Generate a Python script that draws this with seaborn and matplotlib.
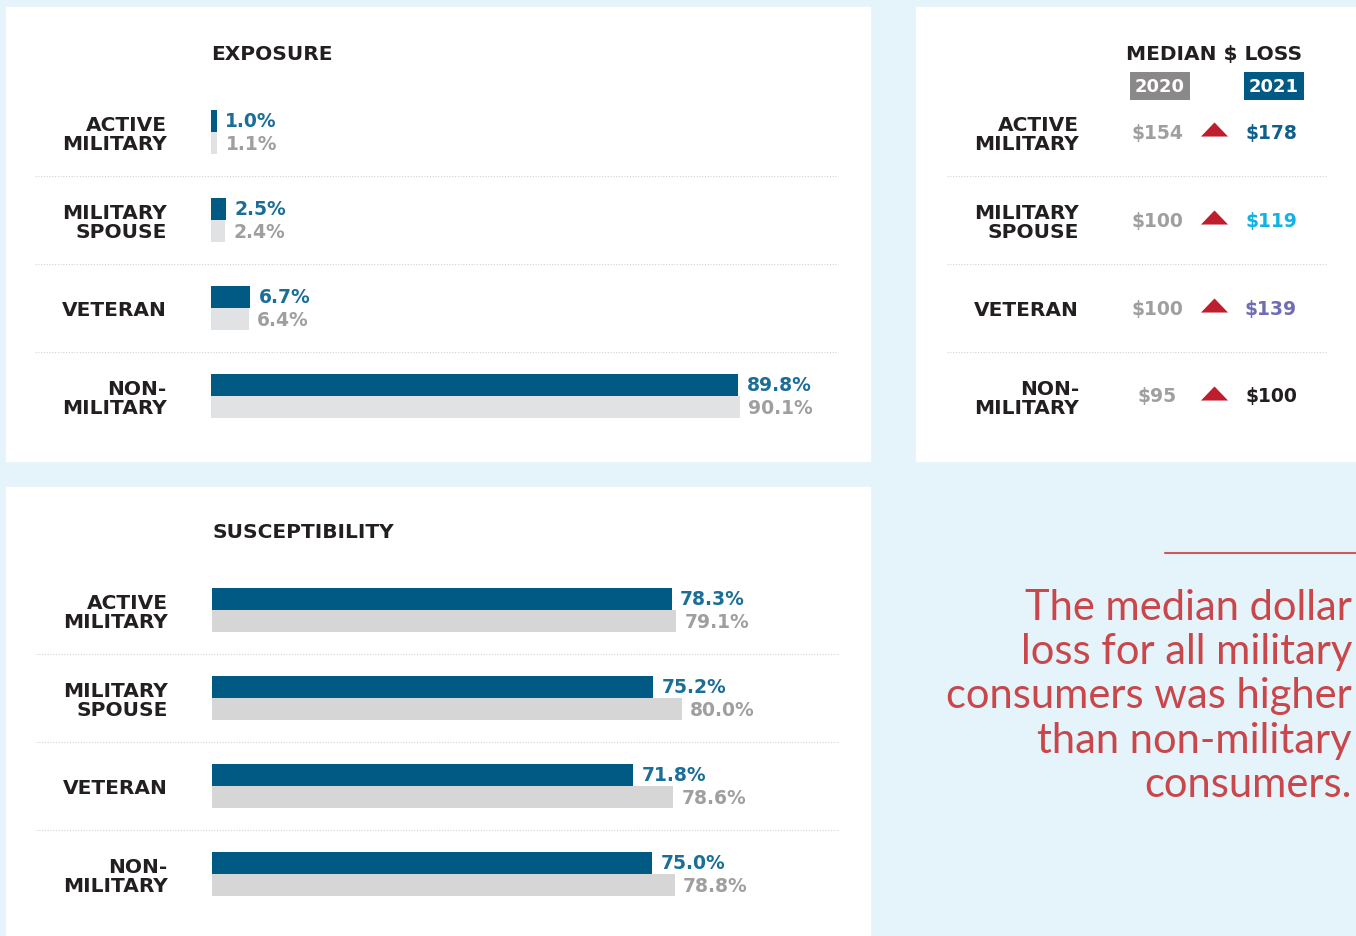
import pandas as pd
import seaborn as sns
import matplotlib.pyplot as plt
from matplotlib.patches import Rectangle

W, H = 1356, 937

# data
groups = ["ACTIVE\nMILITARY", "MILITARY\nSPOUSE", "VETERAN", "NON-\nMILITARY"]
years = ["2021", "2020"]
exposure_2021 = [1.0, 2.5, 6.7, 89.8]
exposure_2020 = [1.1, 2.4, 6.4, 90.1]
suscept_2021 = [78.3, 75.2, 71.8, 75.0]
suscept_2020 = [79.1, 80.0, 78.6, 78.8]
loss_2020 = [154, 100, 100, 95]
loss_2021 = [178, 119, 139, 100]
loss_2021_colors = ["#0f5f8c", "#14b2e4", "#6f6db5", "#231f20"]
note = ("The median dollar\nloss for all military\nconsumers was higher\n"
        "than non-military\nconsumers.")

BLUE = "#005a84"
BLUE_TXT = "#1a6e97"
GRAY_TXT = "#a09e9e"
DARK = "#231f20"
BG = "#e5f3fa"

sns.set_theme(style="white")
plt.rcParams["font.family"] = ["DejaVu Sans"]


def rect(left, top, right, bottom):
    return [left / W, 1 - bottom / H, (right - left) / W, (bottom - top) / H]


def style_labels(ax, pad, size=14.5):
    ax.tick_params(axis="y", length=0, pad=pad, labelsize=size)
    for t in ax.get_yticklabels():
        t.set_fontweight("bold")
        t.set_linespacing(1.0)
        t.set_color(DARK)
    ax.set(xlabel="", ylabel="", xticks=[])
    sns.despine(ax=ax, left=True, bottom=True)
    ax.set_facecolor("none")


def bar_panel(ax, title, v2021, v2020, gray):
    df = pd.DataFrame({
        "group": groups * 2,
        "year": ["2021"] * 4 + ["2020"] * 4,
        "value": v2021 + v2020,
    })
    sns.barplot(data=df, x="value", y="group", hue="year", hue_order=years,
                order=groups, palette={"2021": BLUE, "2020": gray},
                width=0.51, saturation=1, linewidth=0, legend=False, ax=ax)
    ax.set_xlim(0, 100)
    ax.set_ylim(3.5, -0.5)
    for cont, col in zip(ax.containers, [BLUE_TXT, GRAY_TXT]):
        ax.bar_label(cont, fmt="%.1f%%", padding=6, color=col,
                     fontsize=13.5, fontweight="bold")
    ax.hlines([0.5, 1.5, 2.5], -30, 106.8, colors="#d2d2d2",
              linestyles=(0, (1, 1.5)), lw=0.8, clip_on=False)
    ax.set_title(title, loc="left", pad=21, fontsize=14.5,
                 fontweight="bold", color=DARK)
    style_labels(ax, pad=32)


fig = plt.figure(figsize=(W / 100, H / 100), dpi=100, facecolor=BG)

# white panels
for l, t, r, b in [(6, 8, 870, 462), (916, 8, 1356, 462), (6, 488, 870, 937)]:
    fig.add_artist(Rectangle((l / W, 1 - b / H), (r - l) / W, (b - t) / H,
                             transform=fig.transFigure, color="white", zorder=0))

ax1 = fig.add_axes(rect(211, 89, 798, 441))
bar_panel(ax1, "EXPOSURE", exposure_2021, exposure_2020, "#e1e2e4")

ax2 = fig.add_axes(rect(212, 567, 799, 919))
bar_panel(ax2, "SUSCEPTIBILITY", suscept_2021, suscept_2020, "#d7d6d7")

# median loss panel
ax3 = fig.add_axes(rect(1128.5, 89, 1299.5, 441))
sns.scatterplot(x=[1.5] * 4, y=[i - 0.03 for i in range(4)],
                marker=[(-1, -0.52), (1, -0.52), (0, 0.52)],
                s=380, color="#be1e2d", linewidth=0, ax=ax3)
ax3.set_xlim(0, 3)
ax3.set_ylim(3.5, -0.5)
ax3.set_yticks(range(4), labels=groups)
for i in range(4):
    ax3.text(0.5, i, f"${loss_2020[i]}", ha="center", va="center",
             fontsize=13.5, fontweight="bold", color=GRAY_TXT)
    ax3.text(2.5, i, f"${loss_2021[i]}", ha="center", va="center",
             fontsize=13.5, fontweight="bold", color=loss_2021_colors[i])
for xpos, yr, col in [(0.55, "2020", "#8a8889"), (2.55, "2021", BLUE)]:
    ax3.text(xpos, -0.525, yr, ha="center", va="center", fontsize=13,
             fontweight="bold", color="white", clip_on=False,
             bbox=dict(boxstyle="square,pad=0.28", fc=col, ec="none"))
ax3.hlines([0.5, 1.5, 2.5], -3.19, 3.46, colors="#d2d2d2",
           linestyles=(0, (1, 1.5)), lw=0.8, clip_on=False)
ax3.set_title("MEDIAN $ LOSS", pad=21, fontsize=14.5, fontweight="bold", color=DARK)
style_labels(ax3, pad=35.5)

# note on the right
fig.add_artist(plt.Line2D([1165 / W, 1], [1 - 554 / H] * 2, color="#c65a60",
                          lw=1.5, transform=fig.transFigure))
fig.text(1352 / W, 1 - 589 / H, note, ha="right", va="top", fontsize=30,
         color="#c9474a", family=["Lato", "DejaVu Sans"], fontweight="normal",
         linespacing=1.2)

fig.savefig("out.png", dpi=100, facecolor=BG)
